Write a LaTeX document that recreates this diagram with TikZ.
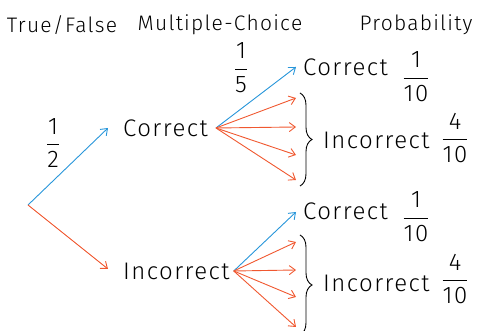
\documentclass[tikz,border=0pt]{standalone}
\usepackage{fontspec}
\setmainfont{Fira Sans}[UprightFont=* Light, LetterSpace=6]
\usetikzlibrary{arrows.meta,decorations.pathreplacing}
\definecolor{tfblue}{RGB}{40,150,218}
\definecolor{tfred}{RGB}{240,88,48}
\newcommand{\fr}[2]{$\displaystyle\frac{\mbox{#1}}{\mbox{#2}}$}
\begin{document}
\begin{tikzpicture}[x=1pt,y=1pt,
  hdr/.style={inner sep=0pt,font=\fontsize{21}{25}\selectfont},
  txt/.style={inner sep=0pt,font=\fontsize{24}{28}\selectfont},
  tip/.style={-{Straight Barb[length=6pt,width=9pt]},line width=0.9pt},
  good/.style={tip,draw=tfblue},
  bad/.style={tip,draw=tfred},
  brc/.style={draw=black,line width=0.9pt,decorate,decoration={brace,amplitude=12pt}}]
\useasboundingbox (0,0) rectangle (480,331);
% headers
\node[hdr] (h1) at (62,306) {True/False};
\node[hdr] (h2) at (220,306) {Multiple-Choice};
\node[hdr] (h3) at (416,306) {Probability};
% root
\coordinate (root) at (28,126);
\node[txt,anchor=west] (c1) at (123,203) {Correct};
\node[txt,anchor=west] (i1) at (123,60) {Incorrect};
\coordinate (t1) at (108,203);
\coordinate (t2) at (108,62);
\draw[good] (root) -- (t1);
\draw[bad] (root) -- (t2);
\node[txt] (f12) at (53,188) {\fr{1}{2}};
% fan 1
\coordinate (o1) at ([xshift=8pt]c1.east);
\coordinate (a1) at (296,264);
\coordinate (b1) at (296,233);
\coordinate (b2) at (296,204);
\coordinate (b3) at (296,176);
\coordinate (b4) at (296,151);
\draw[good] (o1) -- (a1);
\draw[bad] (o1) -- (b1);
\draw[bad] (o1) -- (b2);
\draw[bad] (o1) -- (b3);
\draw[bad] (o1) -- (b4);
\node[txt] (f15) at (241,263) {\fr{1}{5}};
\coordinate (br1t) at (300,238);
\coordinate (br1b) at (300,145);
\draw[brc] (br1t) -- (br1b);
\node[txt,anchor=west] (cc1) at (303,264) {Correct};
\node[txt] (p1) at (416,254) {\fr{1}{10}};
\node[txt,anchor=west] (ci1) at (323,191) {Incorrect};
\node[txt] (p2) at (455,193) {\fr{4}{10}};
% fan 2
\coordinate (o2) at ([xshift=4pt]i1.east);
\coordinate (a2) at (296,119);
\coordinate (d1) at (296,89);
\coordinate (d2) at (296,61);
\coordinate (d3) at (296,34);
\coordinate (d4) at (296,4);
\draw[good] (o2) -- (a2);
\draw[bad] (o2) -- (d1);
\draw[bad] (o2) -- (d2);
\draw[bad] (o2) -- (d3);
\draw[bad] (o2) -- (d4);
\coordinate (br2t) at (300,96);
\coordinate (br2b) at (300,-4);
\draw[brc] (br2t) -- (br2b);
\node[txt,anchor=west] (cc2) at (303,120) {Correct};
\node[txt] (p3) at (416,114) {\fr{1}{10}};
\node[txt,anchor=west] (ci2) at (323,48) {Incorrect};
\node[txt] (p4) at (455,52) {\fr{4}{10}};
\end{tikzpicture}
\end{document}
